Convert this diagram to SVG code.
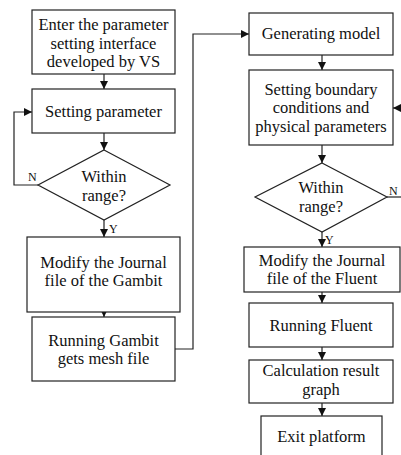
<svg xmlns="http://www.w3.org/2000/svg" width="401" height="455" viewBox="0 0 401 455" font-family="Liberation Serif, Times New Roman, DejaVu Serif, serif">
<style>
.box{fill:#fff;stroke:#222;stroke-width:1.2}
.t{font-size:16.5px;fill:#111;text-anchor:middle}
.l{font-size:12px;fill:#111}
.c{fill:none;stroke:#222;stroke-width:1.2}
</style>
<defs>
<marker id="ah" viewBox="0 0 10 10" refX="10" refY="5" markerWidth="8" markerHeight="8" markerUnits="userSpaceOnUse" orient="auto">
<path d="M0,0 L10,5 L0,10 Z" fill="#111"/>
</marker>
</defs>
<rect width="401" height="455" fill="#fff"/>
<g id="connectors">
<line class="c" x1="104" y1="74" x2="104" y2="89" marker-end="url(#ah)"/>
<line class="c" x1="104" y1="133" x2="104" y2="150" marker-end="url(#ah)"/>
<polyline class="c" points="38,185 14,185 14,112 32,112" marker-end="url(#ah)"/>
<line class="c" x1="104" y1="220" x2="104" y2="237" marker-end="url(#ah)"/>
<line class="c" x1="104" y1="312" x2="104" y2="317" marker-end="url(#ah)"/>
<polyline class="c" points="175,349 193,349 193,34 249,34" marker-end="url(#ah)"/>
<line class="c" x1="322" y1="55" x2="322" y2="70" marker-end="url(#ah)"/>
<line class="c" x1="322" y1="145" x2="322" y2="163" marker-end="url(#ah)"/>
<line class="c" x1="387" y1="197" x2="401" y2="197"/>
<line class="c" x1="402" y1="108" x2="393" y2="108" marker-end="url(#ah)"/>
<line class="c" x1="322" y1="232" x2="322" y2="247" marker-end="url(#ah)"/>
<line class="c" x1="322" y1="292" x2="322" y2="303" marker-end="url(#ah)"/>
<line class="c" x1="322" y1="347" x2="322" y2="360" marker-end="url(#ah)"/>
<line class="c" x1="322" y1="403" x2="322" y2="416" marker-end="url(#ah)"/>
<text class="l" x="28" y="181">N</text>
<text class="l" x="109" y="233">Y</text>
<text class="l" x="389" y="195">N</text>
<text class="l" x="325" y="244">Y</text>
</g>
<g id="enter">
<rect class="box" x="32" y="10" width="143" height="64"/>
<text class="t" x="103.5" y="30">Enter the parameter</text>
<text class="t" x="103.5" y="48.5">setting interface</text>
<text class="t" x="103.5" y="66.5">developed by VS</text>
</g>
<g id="setparam">
<rect class="box" x="32" y="89" width="143" height="44"/>
<text class="t" x="103.5" y="117">Setting parameter</text>
</g>
<g id="range1">
<polygon class="box" points="104,150 170,185 104,220 38,185"/>
<text class="t" x="104" y="182">Within</text>
<text class="t" x="104" y="201">range?</text>
</g>
<g id="modgambit">
<rect class="box" x="27" y="237" width="153" height="75"/>
<text class="t" x="103.5" y="267.5">Modify the Journal</text>
<text class="t" x="103.5" y="286">file of the Gambit</text>
</g>
<g id="rungambit">
<rect class="box" x="32" y="317" width="143" height="64"/>
<text class="t" x="103.5" y="345.5">Running Gambit</text>
<text class="t" x="103.5" y="363.5">gets mesh file</text>
</g>
<g id="genmodel">
<rect class="box" x="249" y="13" width="144" height="42"/>
<text class="t" x="321" y="38.5">Generating model</text>
</g>
<g id="boundary">
<rect class="box" x="249" y="70" width="144" height="75"/>
<text class="t" x="321" y="94.5">Setting boundary</text>
<text class="t" x="321" y="113">conditions and</text>
<text class="t" x="321" y="131.5">physical parameters</text>
</g>
<g id="range2">
<polygon class="box" points="322,163 387,197 322,232 255,197"/>
<text class="t" x="321" y="192.5">Within</text>
<text class="t" x="321" y="211.5">range?</text>
</g>
<g id="modfluent">
<rect class="box" x="244" y="247" width="156" height="45"/>
<text class="t" x="322" y="266">Modify the Journal</text>
<text class="t" x="322" y="284">file of the Fluent</text>
</g>
<g id="runfluent">
<rect class="box" x="249" y="303" width="144" height="44"/>
<text class="t" x="321" y="331">Running Fluent</text>
</g>
<g id="calc">
<rect class="box" x="249" y="360" width="144" height="43"/>
<text class="t" x="321" y="376">Calculation result</text>
<text class="t" x="321" y="395">graph</text>
</g>
<g id="exit">
<rect class="box" x="261" y="416" width="121" height="45"/>
<text class="t" x="321.5" y="442">Exit platform</text>
</g>
</svg>
